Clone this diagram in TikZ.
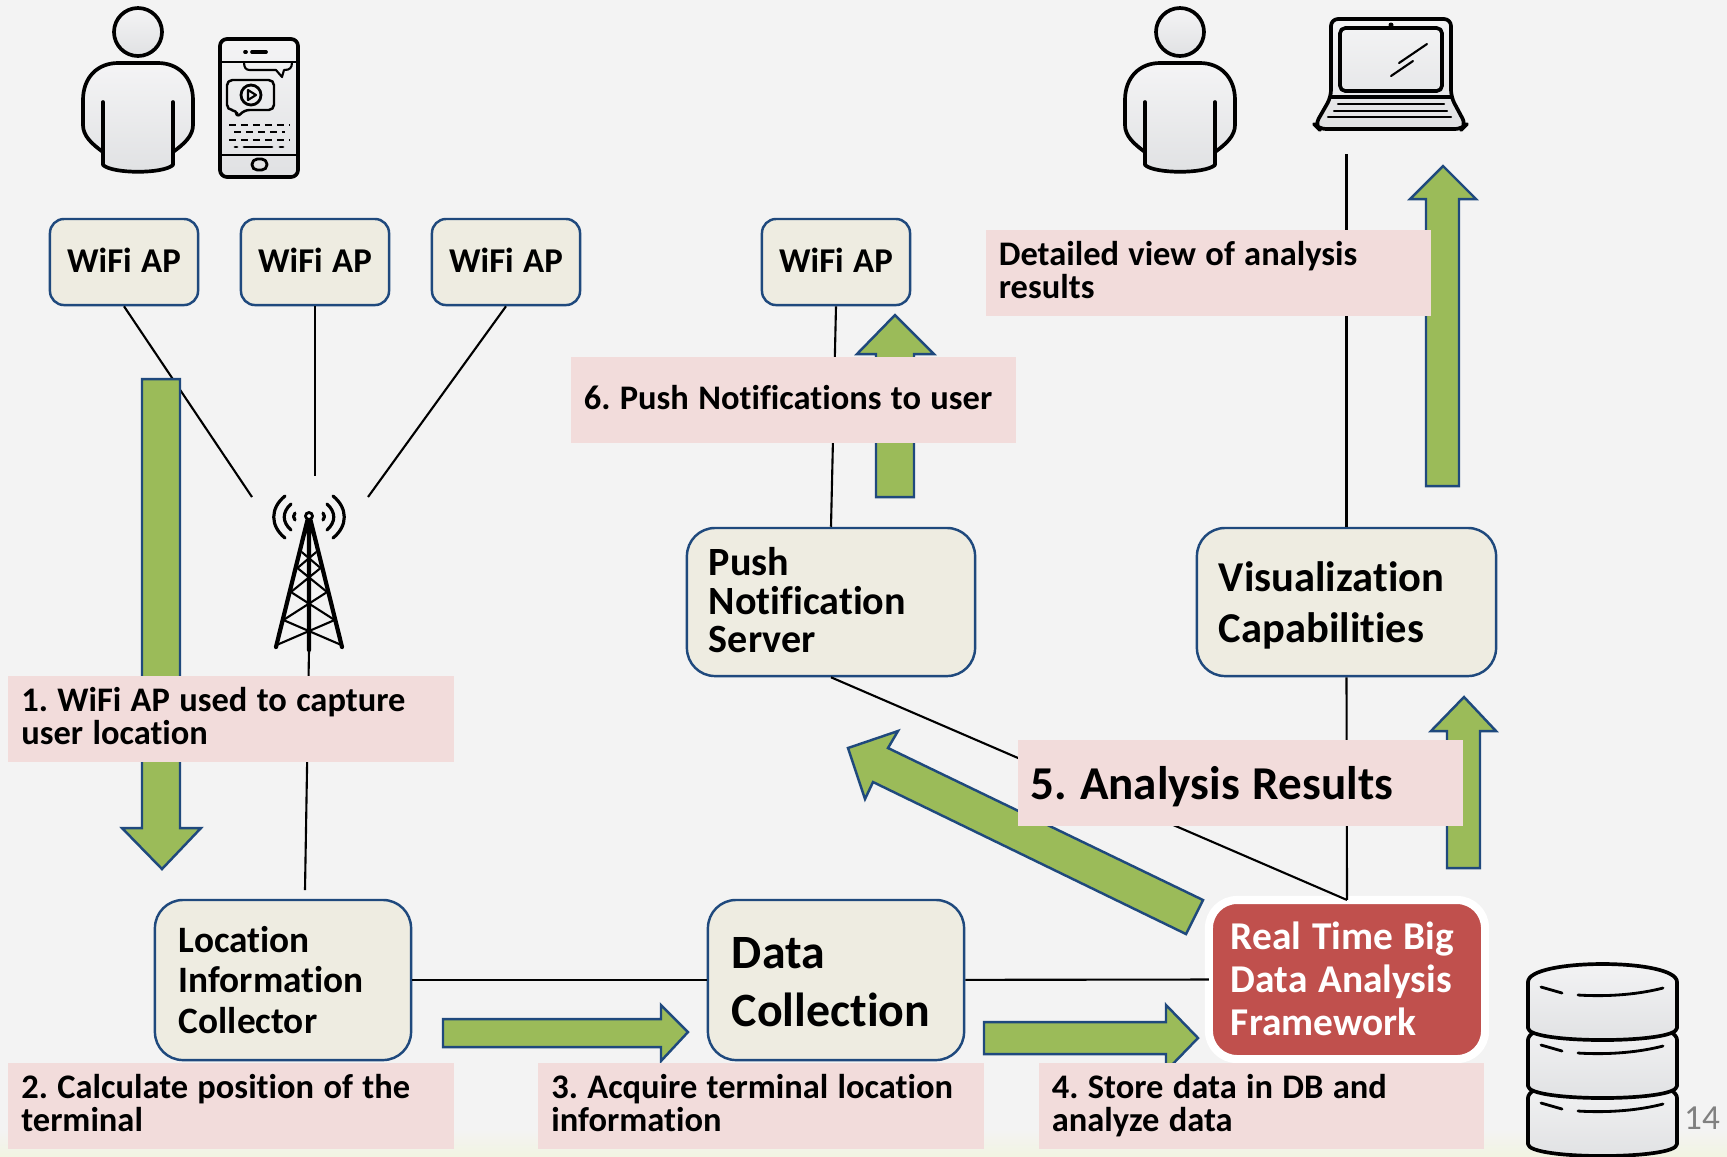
\documentclass[tikz,border=0pt]{standalone}
\usepackage{fontspec}
\setmainfont[WordSpace=1.2,Ligatures=NoCommon]{Carlito}
\frenchspacing
\definecolor{pagegrey}{HTML}{F3F3F3}
\definecolor{boxfill}{HTML}{EEECE1}
\definecolor{boxline}{HTML}{1F497D}
\definecolor{notepink}{HTML}{F2DCDB}
\definecolor{flowgreen}{HTML}{9BBB59}
\definecolor{framered}{HTML}{C0504D}
\definecolor{iconlight}{HTML}{F4F4F5}
\definecolor{icondark}{HTML}{E0E1E3}
\tikzset{
	apbox/.style={draw=boxline, fill=boxfill, line width=.7pt, rounded corners=4pt, minimum width=1.48cm, minimum height=.86cm, text depth=1.2pt, font=\fontsize{9.9}{11}\selectfont\bfseries},
	srvbox/.style={draw=boxline, fill=boxfill, line width=.7pt, rounded corners=8pt, align=flush left, inner xsep=.22cm},
	notelabel/.style={fill=notepink, inner xsep=.13cm, inner ysep=0pt, text width=4.19cm, minimum height=.86cm, align=flush left, text depth=11pt, font=\fontsize{9.8}{9.3}\selectfont\bfseries},
	flowarrow/.style={draw=boxline, fill=flowgreen, line width=.7pt, miter limit=4},
	wire/.style={draw=black, line width=.6pt},
	iconline/.style={draw=black, line width=1.05pt, line join=round, line cap=round},
	iconfill/.style={iconline, top color=iconlight, bottom color=icondark},
	personicon/.pic={
		\draw[iconfill] (0,0) circle (24);
		\draw[iconfill] (-35,133) -- (-35,120) .. controls (-46,112) and (-55,104) .. (-55,93) -- (-55,68) .. controls (-55,45) and (-40,31) .. (-20,31) -- (20,31) .. controls (40,31) and (55,45) .. (55,68) -- (55,93) .. controls (55,104) and (46,112) .. (35,120) -- (35,133) .. controls (25,142) and (-25,142) .. (-35,133) -- cycle;
		\draw[iconline] (-35,70) -- (-35,120) (35,70) -- (35,120);
	},
}
\begin{document}
\begin{tikzpicture}[x=.01cm, y=-.01cm]
	\useasboundingbox (0,0) rectangle (1727,1156);
	\fill[pagegrey] (0,0) rectangle (1727,1156);
	\shade[top color=pagegrey, bottom color=green!10!yellow!7!pagegrey] (0,1130) rectangle (1727,1156);

	\node[apbox] (wifia) at (124,262) {WiFi AP};
	\node[apbox] (wifib) at (315,262) {WiFi AP};
	\node[apbox] (wific) at (506,262) {WiFi AP};
	\node[apbox] (wifid) at (836,262) {WiFi AP};
	\node[srvbox, minimum width=2.88cm, minimum height=1.48cm, text width=2.44cm, text depth=22.8pt, font=\fontsize{11.4}{10.9}\selectfont\bfseries] (pushsrv) at (831,602) {Push\\Notification\\Server};
	\node[srvbox, minimum width=2.99cm, minimum height=1.48cm, text width=2.55cm, text depth=14.7pt, font=\fontsize{12.1}{14.7}\selectfont\bfseries] (vissrv) at (1346.5,602) {Visualization\\Capabilities};
	\node[srvbox, minimum width=2.56cm, minimum height=1.6cm, text width=2.08cm, font=\fontsize{10.6}{11.5}\selectfont\bfseries] (collector) at (283,980) {Location\\Information\\Collector};
	\node[srvbox, minimum width=2.56cm, minimum height=1.6cm, text width=2.08cm, text depth=15.4pt, font=\fontsize{13.6}{16.4}\selectfont\bfseries] (datacol) at (836,980) {Data\\Collection};
	\node[draw=white, fill=framered, text=white, line width=2.3pt, outer sep=0pt, rounded corners=8pt, minimum width=2.76cm, minimum height=1.59cm, text width=2.32cm, inner xsep=.22cm, align=flush left, text depth=25pt, font=\fontsize{11.2}{12.2}\selectfont\bfseries] (realtime) at (1347,979.5) {Real Time Big\\Data Analysis\\Framework};

	\coordinate (towerl) at (252,497);
	\coordinate (towerm) at (315,476);
	\coordinate (towerr) at (368,497);
	\coordinate (towerfoot) at (309,650);
	\coordinate (collectortop) at (305,890);
	\coordinate (laptopgap) at (1346.5,154);
	\draw[wire] (wifia.south) -- (towerl);
	\draw[wire] (wifib.south) -- (towerm);
	\draw[wire] (wific.south) -- (towerr);
	\draw[wire] (towerfoot) -- (collectortop);
	\draw[wire] (collector) -- (datacol);
	\draw[wire] (datacol) -- (realtime.west);
	\draw[wire] (pushsrv.north) -- (wifid.south);
	\draw[wire] (pushsrv.south) -- (realtime.north);
	\draw[wire] (vissrv.south) -- (realtime.north);
	\draw[wire] (vissrv.north) -- (laptopgap);

	\draw[flowarrow] (142,379) -- (180,379) -- (180,828) -- (201,828) -- (162,869) -- (122,828) -- (142,828) -- cycle;
	\draw[flowarrow] (443,1019) -- (661,1019) -- (661,1005) -- (688,1032) -- (661,1061) -- (661,1047) -- (443,1047) -- cycle;
	\draw[flowarrow] (984,1022) -- (1166,1022) -- (1166,1005) -- (1198,1038) -- (1166,1071) -- (1166,1054) -- (984,1054) -- cycle;
	\draw[flowarrow] (848,748) -- (898,731) -- (888,748) -- (1203,900) -- (1186,934) -- (873,782) -- (865,799) -- cycle;
	\draw[flowarrow] (1447,868) -- (1447,731) -- (1431,731) -- (1464,697) -- (1496,731) -- (1480,731) -- (1480,868) -- cycle;
	\draw[flowarrow] (876,497) -- (876,354) -- (857,354) -- (895,315) -- (934,354) -- (914,354) -- (914,497) -- cycle;
	\draw[flowarrow] (1426,486) -- (1426,199) -- (1410,199) -- (1443,166) -- (1476,199) -- (1459,199) -- (1459,486) -- cycle;

	\node[notelabel] (notea) at (231,719) {1. WiFi AP used to capture\\user location};
	\node[notelabel] (noteb) at (231,1106) {2. Calculate position of the\\terminal};
	\node[notelabel] (notec) at (761,1106) {3. Acquire terminal location\\information};
	\node[notelabel] (noted) at (1261.5,1106) {4. Store data in DB and\\analyze data};
	\node[notelabel, text depth=0pt, font=\fontsize{13.4}{14}\selectfont\bfseries] (notee) at (1240.5,783) {5. Analysis Results};
	\node[notelabel, text depth=1.7pt] (notef) at (793.5,400) {6. Push Notifications to user};
	\node[notelabel] (noteg) at (1208.5,273) {Detailed view of analysis\\results};

	% icons
	\pic at (138,32) {personicon};
	\pic at (1180,32) {personicon};

	\draw[iconfill, rounded corners=2pt] (220,39) rectangle (298,177);
	\draw[iconline, line width=.7pt] (220,62) -- (298,62) (220,155) -- (298,155);
	\draw[iconline] (245,52) -- (246,52) (252,52) -- (266,52);
	\draw[iconline, line width=.6pt] (244,62) .. controls (244,68) and (246,70) .. (250,70) -- (276,70) -- (282,77) -- (284,70) .. controls (290,70) and (292,68) .. (292,62);
	\draw[iconline, line width=.7pt, rounded corners=1.5pt] (227,80) -- (274,80) -- (274,110) -- (244,110) -- (237,118) -- (237,110) -- (227,110) -- cycle;
	\draw[iconline, line width=.8pt] (251,95) circle (10);
	\draw[iconline, line width=.6pt] (248,90) -- (256,95) -- (248,100) -- cycle;
	\draw[iconline, line width=.8pt, line cap=butt, dash pattern=on 2pt off 1.4pt] (229,125) -- (290,125) (234,132) -- (285,132) (229,140) -- (290,140);
	\draw[iconline, line width=.8pt] (235,147) -- (237,147) (244,147) -- (272,147) (280,147) -- (283,147);
	\draw[iconline, line width=.8pt, rounded corners=1.5pt] (252,159) rectangle (267,170);

	\draw[iconfill, rounded corners=2pt] (1331,19) -- (1451,19) -- (1451,97) -- (1466,125) -- (1462,129) -- (1319,129) -- (1315,125) -- (1331,97) -- cycle;
	\draw[iconline, rounded corners=1.5pt] (1340,28) rectangle (1442,91);
	\fill (1391,25) circle (2.5);
	\draw[iconline] (1331,97) -- (1451,97);
	\draw[iconline, line width=.6pt] (1399,63) -- (1427,44) (1391,76) -- (1413,61);
	\draw[iconline, line width=.6pt] (1338,104) -- (1444,104) (1334,111) -- (1447,111) (1328,117) -- (1451,117);

	\foreach \ya/\yb in {552/568,568/592,592/620,620/645} {
		\draw[black, line width=.6pt] (309-.27*\ya+.27*525,\ya) -- (309+.27*\yb-.27*525,\yb) (309+.27*\ya-.27*525,\ya) -- (309-.27*\yb+.27*525,\yb);
	}
	\draw[black, line width=1.2pt, line cap=round] (276,647) -- (307,522) -- (311,522) -- (342,647) (309,522) -- (309,650);
	\fill (305,524) -- (309,516) -- (313,524) -- (311,535) -- (307,535) -- cycle;
	\draw[iconline, line width=.8pt, fill=white] (309,516) circle (3.5);
	\draw[iconline, line width=.9pt] (285,496) .. controls (270,508) and (270,526) .. (285,538) (291,504) .. controls (282,512) and (282,522) .. (291,530) (295,513) .. controls (293,515) and (293,518) .. (295,520);
	\draw[iconline, line width=.9pt] (333,496) .. controls (348,508) and (348,526) .. (333,538) (327,504) .. controls (336,512) and (336,522) .. (327,530) (323,513) .. controls (325,515) and (325,518) .. (323,520);

	\foreach \dy in {116,58,0} {
		\begin{scope}[yshift=-\dy*.01cm]
			\draw[iconfill] (1528,982) .. controls (1528,958) and (1677,958) .. (1677,982) -- (1677,1028) .. controls (1677,1044) and (1528,1044) .. (1528,1028) -- cycle;
			\draw[iconline, line width=.8pt] (1541,987) -- (1562,993) (1578,995) .. controls (1610,997) and (1640,994) .. (1663,988);
		\end{scope}
	}
	\node[text=gray, font=\fontsize{10}{12}\selectfont] (pagenum) at (1702,1118) {14};
\end{tikzpicture}
\end{document}
